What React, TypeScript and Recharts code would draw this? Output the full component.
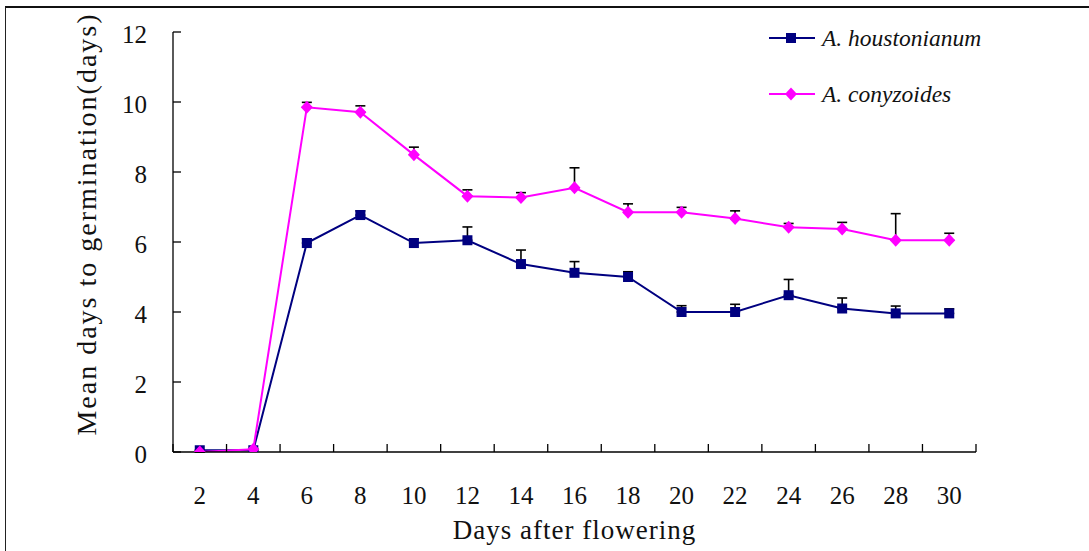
import { LineChart, Line, XAxis, YAxis, ErrorBar, Legend, Label } from 'recharts'

// sampling day (days after flowering)
const days = [2, 4, 6, 8, 10, 12, 14, 16, 18, 20, 22, 24, 26, 28, 30]

// mean days to germination and standard error
const houstonianum = [0.05, 0.05, 5.97, 6.77, 5.97, 6.05, 5.37, 5.12, 5.0, 4.0, 4.0, 4.48, 4.1, 3.96, 3.96]
const houstonianumSe = [0, 0, 0.12, 0.12, 0.12, 0.38, 0.4, 0.32, 0.15, 0.18, 0.22, 0.45, 0.3, 0.21, 0.13]
const conyzoides = [0, 0.08, 9.85, 9.71, 8.49, 7.31, 7.27, 7.55, 6.85, 6.85, 6.67, 6.42, 6.37, 6.05, 6.05]
const conyzoidesSe = [0, 0, 0.14, 0.18, 0.22, 0.18, 0.14, 0.57, 0.24, 0.14, 0.22, 0.11, 0.19, 0.76, 0.2]

const seriesNames = ['A. houstonianum', 'A. conyzoides']
const yTicks = [0, 2, 4, 6, 8, 10, 12]
// odd values mark the boundaries between sampling days
const xTicks = Array.from({ length: 31 }, (_, i) => i + 1)

const NAVY = '#000080'
const MAGENTA = '#FF00FF'
const FONT = '"Liberation Serif", "Times New Roman", serif'

const data = days.map((d, i) => ({
  day: d,
  h: houstonianum[i],
  hErr: [0, houstonianumSe[i]],
  c: conyzoides[i],
  cErr: [0, conyzoidesSe[i]],
}))

const SquareDot = (p: any) => (
  <rect key={`s${p.index}`} x={p.cx - 5} y={p.cy - 5} width={10} height={10} fill={NAVY} />
)

const DiamondDot = (p: any) => {
  const { cx, cy } = p
  const pts = [
    [cx, cy - 6.5],
    [cx + 6, cy],
    [cx, cy + 6.5],
    [cx - 6, cy],
  ]
  return <polygon key={`d${p.index}`} points={pts.map((q) => q.join(',')).join(' ')} fill={MAGENTA} />
}

const XTick = (p: any) => {
  const v = p.payload.value
  if (v % 2 === 1) {
    return <line x1={p.x} x2={p.x} y1={p.y} y2={p.y - 8} stroke="#000" strokeWidth={1.3} />
  }
  return (
    <text x={p.x} y={p.y + 43} textAnchor="middle" dominantBaseline="central" fontSize={25} fontFamily={FONT} fill="#111">
      {v}
    </text>
  )
}

const YTick = (p: any) => (
  <g>
    <line x1={p.x} x2={p.x + 8} y1={p.y} y2={p.y} stroke="#000" strokeWidth={1.3} />
    <text x={p.x - 26} y={p.y + 2} textAnchor="end" dominantBaseline="central" fontSize={25} fontFamily={FONT} fill="#111">
      {p.payload.value}
    </text>
  </g>
)

const YTitle = (p: any) => {
  const vb = p.viewBox
  const cx = vb.x + 86
  const cy = vb.y + vb.height / 2 - 18
  return (
    <text
      x={cx}
      y={cy}
      transform={`rotate(-90, ${cx}, ${cy})`}
      textAnchor="middle"
      dominantBaseline="central"
      fontSize={28}
      letterSpacing={2}
      fontFamily={FONT}
      fill="#111"
    >
      Mean days to germination(days)
    </text>
  )
}

const XTitle = (p: any) => {
  const vb = p.viewBox
  return (
    <text
      x={vb.x + vb.width / 2}
      y={vb.y + 78}
      textAnchor="middle"
      dominantBaseline="central"
      fontSize={27}
      letterSpacing={1}
      fontFamily={FONT}
      fill="#111"
    >
      Days after flowering
    </text>
  )
}

const LegendBox = () => (
  <div style={{ fontFamily: FONT, fontStyle: 'italic', fontSize: 23.5, color: '#111' }}>
    {seriesNames.map((name, i) => (
      <div key={name} style={{ display: 'flex', alignItems: 'center', height: 28, marginBottom: 28 }}>
        <svg width={46} height={14} style={{ display: 'block' }}>
          <line x1={0} x2={46} y1={7} y2={7} stroke={i === 0 ? NAVY : MAGENTA} strokeWidth={2} />
          {i === 0 ? (
            <rect x={17} y={2} width={10} height={10} fill={NAVY} />
          ) : (
            <polygon points="22,0.5 28,7 22,13.5 16,7" fill={MAGENTA} />
          )}
        </svg>
        <span style={{ marginLeft: 7, whiteSpace: 'nowrap' }}>{name}</span>
      </div>
    ))}
  </div>
)

export default function App() {
  return (
    <div style={{ position: 'absolute', left: 0, top: 0, width: 1089, height: 551, background: '#fff', overflow: 'hidden' }}>
      <div
        style={{
          position: 'absolute',
          left: 5,
          top: 6,
          width: 1200,
          height: 700,
          borderLeft: '1.5px solid #222',
          borderTop: '2px solid #111',
        }}
      />
      <LineChart width={1089} height={551} data={data} margin={{ top: 32, right: 113, bottom: 39, left: 0 }}>
        <XAxis
          dataKey="day"
          type="number"
          domain={[1, 31]}
          ticks={xTicks}
          interval={0}
          tickSize={0}
          tickMargin={0}
          tickLine={false}
          tick={<XTick />}
          height={60}
          axisLine={{ stroke: '#000', strokeWidth: 1.3 }}
        >
          <Label content={<XTitle />} />
        </XAxis>
        <YAxis
          type="number"
          domain={[0, 12]}
          ticks={yTicks}
          interval={0}
          allowDataOverflow
          tickSize={0}
          tickMargin={0}
          tickLine={false}
          tick={<YTick />}
          width={173}
          axisLine={{ stroke: '#000', strokeWidth: 1.3 }}
        >
          <Label content={<YTitle />} />
        </YAxis>
        <Legend
          layout="vertical"
          align="center"
          verticalAlign="middle"
          content={<LegendBox />}
          wrapperStyle={{ left: 769, top: 24, width: 280, height: 120 }}
        />
        <Line
          dataKey="h"
          name={seriesNames[0]}
          stroke={NAVY}
          strokeWidth={2}
          dot={SquareDot}
          activeDot={false}
          isAnimationActive={false}
        >
          <ErrorBar dataKey="hErr" direction="y" width={5} stroke="#000" strokeWidth={1.6} isAnimationActive={false} />
        </Line>
        <Line
          dataKey="c"
          name={seriesNames[1]}
          stroke={MAGENTA}
          strokeWidth={2}
          dot={DiamondDot}
          activeDot={false}
          isAnimationActive={false}
        >
          <ErrorBar dataKey="cErr" direction="y" width={5} stroke="#000" strokeWidth={1.6} isAnimationActive={false} />
        </Line>
      </LineChart>
    </div>
  )
}
